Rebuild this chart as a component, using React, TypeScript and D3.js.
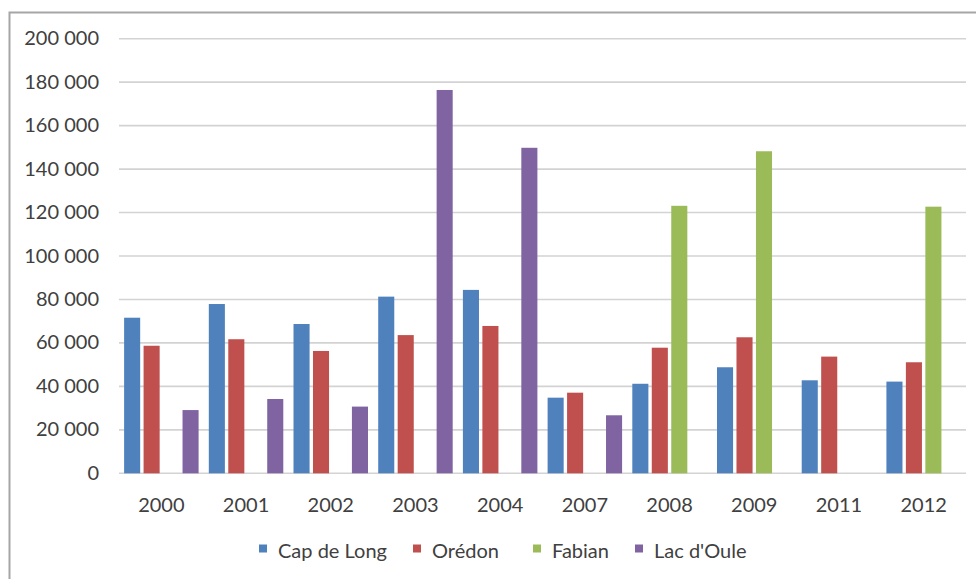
import React from "react";
import * as d3 from "d3";

const categories = ["2000", "2001", "2002", "2003", "2004", "2007", "2008", "2009", "2011", "2012"];
const seriesNames = ["Cap de Long", "Orédon", "Fabian", "Lac d'Oule"];
const capDeLong = [71600, 77900, 68700, 81300, 84400, 34800, 41200, 48800, 42800, 42200];
const oredon = [58700, 61700, 56300, 63600, 67800, 37100, 57800, 62600, 53700, 51100];
const fabian = [null, null, null, null, null, null, 123100, 148200, null, 122700];
const lacDOule = [29100, 34200, 30700, 176400, 149800, 26700, null, null, null, null];
const yTicks = [0, 20000, 40000, 60000, 80000, 100000, 120000, 140000, 160000, 180000, 200000];
const colors = ["#4F81BD", "#C0504D", "#9BBB59", "#8064A2"];
const legendX = [259, 413, 533, 635];

const W = 976;
const H = 579;
const FONT = "Lato, 'Open Sans', sans-serif";
const TEXT = "#404040";

export default function App() {
  const seriesValues = [capDeLong, oredon, fabian, lacDOule];
  const x = d3.scaleBand<string>().domain(categories).range([119, 966]).paddingInner(0).paddingOuter(0);
  const inner = d3
    .scaleBand<number>()
    .domain([0, 1, 2, 3])
    .range([0, x.bandwidth()])
    .paddingInner(0)
    .paddingOuter(0.175);
  const y = d3.scaleLinear().domain([0, 200000]).range([473.3, 38.7]);
  const fmt = (v: number) => d3.format(",")(v).replace(/,/g, " ");
  const inset = 1.7;

  return (
    <div style={{ position: "absolute", left: 0, top: 0 }}>
      <svg width={W} height={H} style={{ display: "block", background: "#fff" }}>
        <rect x={0} y={0} width={W} height={H} fill="#fff" />
        <rect x={9.5} y={12.5} width={1200} height={900} fill="none" stroke="#a6a6a6" strokeWidth={2} />
        {yTicks.map((t) => (
          <g key={t}>
            <line x1={119} x2={966} y1={y(t)} y2={y(t)} stroke="#d3d3d3" strokeWidth={1.6} />
            <text
              x={99}
              y={y(t) + 6.5}
              textAnchor="end"
              fontFamily={FONT}
              fontSize={20}
              fill={TEXT}
            >
              {fmt(t)}
            </text>
          </g>
        ))}
        {categories.map((c, ci) => (
          <g key={c}>
            {seriesValues.map((vals, si) => {
              const v = vals[ci];
              if (v == null) return null;
              const bx = (x(c) as number) + (inner(si) as number) + inset;
              return (
                <rect
                  key={si}
                  x={bx}
                  y={y(v)}
                  width={inner.bandwidth() - 2 * inset}
                  height={y(0) - y(v)}
                  fill={colors[si]}
                />
              );
            })}
            <text
              x={(x(c) as number) + x.bandwidth() / 2}
              y={511.5}
              textAnchor="middle"
              fontFamily={FONT}
              fontSize={20}
              fill={TEXT}
            >
              {c}
            </text>
          </g>
        ))}
        {seriesNames.map((n, i) => (
          <g key={n}>
            <rect x={legendX[i]} y={544.5} width={8} height={8} fill={colors[i]} />
            <text x={legendX[i] + 19} y={557.5} fontFamily={FONT} fontSize={20} fill={TEXT}>
              {n}
            </text>
          </g>
        ))}
      </svg>
    </div>
  );
}
